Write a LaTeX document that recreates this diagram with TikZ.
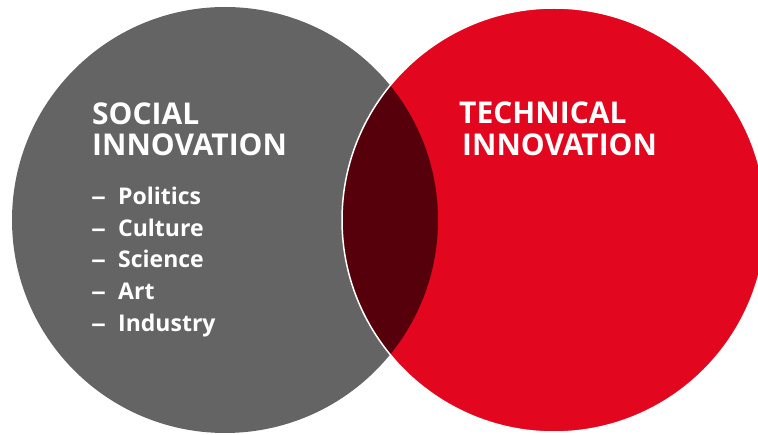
\documentclass[tikz,border=0pt]{standalone}
\usepackage{fontspec}
\setmainfont{Open Sans}
\definecolor{socgray}{HTML}{646464}
\definecolor{techred}{HTML}{E2061F}
\definecolor{lensdark}{HTML}{56000C}
\begin{document}
\begin{tikzpicture}[x=1pt,y=-1pt,
  title/.style={anchor=base west,inner sep=0pt,text=white,font=\fontsize{30}{30}\selectfont\bfseries},
  item/.style={anchor=base west,inner sep=0pt,text=white,font=\fontsize{23}{23}\selectfont\bfseries}]
\useasboundingbox (0,0) rectangle (758,435);
\fill[socgray] (225,220) circle (213);
\fill[techred] (554,220) circle (212);
\begin{scope}
  \clip (225,220) circle (213);
  \fill[lensdark] (554,220) circle (212);
\end{scope}
\draw[white,line width=1.5pt] (554,220) circle (212);
\node[title] (s1) at (92,125) {SOCIAL};
\node[title] (s2) at (92,156) {INNOVATION};
\node[item] (d1) at (91,205) {\scalebox{1.3}[1]{–}};
\node[item] (i1) at (118,205) {Politics};
\node[item] (d2) at (91,237) {\scalebox{1.3}[1]{–}};
\node[item] (i2) at (118,237) {Culture};
\node[item] (d3) at (91,268) {\scalebox{1.3}[1]{–}};
\node[item] (i3) at (118,268) {Science};
\node[item] (d4) at (91,300) {\scalebox{1.3}[1]{–}};
\node[item] (i4) at (118,300) {Art};
\node[item] (d5) at (91,332) {\scalebox{1.3}[1]{–}};
\node[item] (i5) at (118,332) {Industry};
\node[title] (t1) at (459,124) {TECHNICAL};
\node[title] (t2) at (462,156) {INNOVATION};
\end{tikzpicture}
\end{document}
